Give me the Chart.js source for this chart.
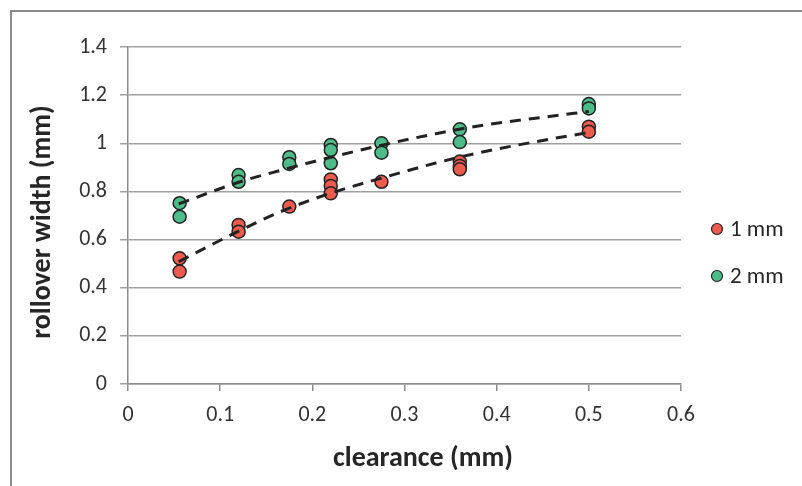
<!DOCTYPE html>
<html>
<head>
<meta charset="utf-8">
<script src="https://cdn.jsdelivr.net/npm/chart.js@4/dist/chart.umd.min.js"></script>
<style>
  html, body { margin: 0; padding: 0; background: #fff; }
  #wrap { position: relative; width: 802px; height: 486px; }
</style>
</head>
<body>
<div id="wrap"><canvas id="c" width="802" height="486"></canvas></div>
<script>
// ---- data ----
const seriesNames = ['1 mm', '2 mm'];
const xTicks = [0, 0.1, 0.2, 0.3, 0.4, 0.5, 0.6];
const yTicks = [0, 0.2, 0.4, 0.6, 0.8, 1.0, 1.2, 1.4];

const clear1 = [0.056, 0.056, 0.12, 0.12, 0.175, 0.22, 0.22, 0.22, 0.275, 0.36, 0.36, 0.36, 0.5, 0.5];
const width1 = [0.522, 0.467, 0.661, 0.633, 0.737, 0.85, 0.823, 0.792, 0.84, 0.924, 0.906, 0.892, 1.069, 1.048];

const clear2 = [0.056, 0.056, 0.12, 0.12, 0.175, 0.175, 0.22, 0.22, 0.22, 0.275, 0.275, 0.36, 0.36, 0.5, 0.5];
const width2 = [0.751, 0.695, 0.868, 0.84, 0.942, 0.914, 0.993, 0.972, 0.917, 1.0, 0.961, 1.058, 1.005, 1.163, 1.145];

// trendlines
const trendX1 = [0.055, 0.12, 0.165, 0.22, 0.273, 0.334, 0.38, 0.44, 0.5];
const trendY1 = [0.508, 0.635, 0.715, 0.793, 0.853, 0.918, 0.96, 1.005, 1.045];
const trendX2 = [0.055, 0.12, 0.165, 0.22, 0.273, 0.334, 0.38, 0.45, 0.5];
const trendY2 = [0.748, 0.838, 0.887, 0.942, 0.99, 1.04, 1.072, 1.108, 1.132];

const xTitle = 'clearance (mm)';
const yTitle = 'rollover width (mm)';

// ---- styles ----
const RED = '#EC5B4D';
const GREEN = '#4DBC88';
const FONT = 'Carlito, Lato, "Liberation Sans", sans-serif';

const pts = (xs, ys) => xs.map((x, i) => ({ x: x, y: ys[i] }));

const decor = {
  id: 'decor',
  beforeDraw(chart) {
    const ctx = chart.ctx;
    ctx.save();
    ctx.strokeStyle = '#8c8c8c';
    ctx.lineWidth = 2;
    ctx.beginPath();
    ctx.moveTo(11, 486);
    ctx.lineTo(11, 11);
    ctx.lineTo(802, 11);
    ctx.stroke();
    ctx.restore();
  },
  afterDraw(chart) {
    const ctx = chart.ctx;
    ctx.save();
    // axis titles
    ctx.fillStyle = '#262626';
    ctx.font = 'bold 28px ' + FONT;
    ctx.textAlign = 'center';
    ctx.textBaseline = 'middle';
    ctx.fillText(xTitle, 423, 459);
    ctx.translate(43, 222);
    ctx.rotate(-Math.PI / 2);
    ctx.fillText(yTitle, 0, 0);
    ctx.restore();
    // legend
    ctx.save();
    const items = [
      { name: seriesNames[0], color: RED, y: 229 },
      { name: seriesNames[1], color: GREEN, y: 276 }
    ];
    items.forEach(it => {
      ctx.beginPath();
      ctx.arc(717, it.y, 5.5, 0, Math.PI * 2);
      ctx.fillStyle = it.color;
      ctx.fill();
      ctx.lineWidth = 1.2;
      ctx.strokeStyle = '#222';
      ctx.stroke();
      ctx.fillStyle = '#262626';
      ctx.font = '23px ' + FONT;
      ctx.textAlign = 'left';
      ctx.textBaseline = 'middle';
      ctx.fillText(it.name, 730, it.y + 1);
    });
    ctx.restore();
  }
};

new Chart(document.getElementById('c'), {
  type: 'scatter',
  data: {
    datasets: [
      {
        type: 'line', label: 'trend 1', data: pts(trendX1, trendY1),
        borderColor: '#222', borderWidth: 3, borderDash: [11, 8],
        pointRadius: 0, fill: false, cubicInterpolationMode: 'monotone', order: 0
      },
      {
        type: 'line', label: 'trend 2', data: pts(trendX2, trendY2),
        borderColor: '#222', borderWidth: 3, borderDash: [11, 8],
        pointRadius: 0, fill: false, cubicInterpolationMode: 'monotone', order: 0
      },
      {
        label: seriesNames[0], data: pts(clear1, width1),
        backgroundColor: RED, borderColor: '#222', borderWidth: 1.5,
        pointRadius: 6.5, order: 1
      },
      {
        label: seriesNames[1], data: pts(clear2, width2),
        backgroundColor: GREEN, borderColor: '#222', borderWidth: 1.5,
        pointRadius: 6.5, order: 1
      }
    ]
  },
  options: {
    responsive: false,
    animation: false,
    layout: { padding: { left: 10, top: 47, right: 121, bottom: 0 } },
    plugins: { legend: { display: false }, tooltip: { enabled: false } },
    scales: {
      x: {
        type: 'linear', min: 0, max: 0.6,
        afterBuildTicks: s => { s.ticks = xTicks.map(v => ({ value: v })); },
        afterFit: s => { s.height = 102; },
        ticks: {
          color: '#333', font: { family: FONT, size: 22 }, padding: 11,
          callback: v => String(Math.round(v * 10) / 10)
        },
        grid: { drawOnChartArea: false, drawTicks: true, tickLength: 7, color: '#8c8c8c', lineWidth: 1.5 },
        border: { color: '#8c8c8c', width: 1.5 }
      },
      y: {
        type: 'linear', min: 0, max: 1.4,
        afterBuildTicks: s => { s.ticks = yTicks.map(v => ({ value: v })); },
        afterFit: s => { s.width = 118; },
        ticks: {
          color: '#333', font: { family: FONT, size: 22 }, padding: 13,
          callback: v => String(Math.round(v * 10) / 10)
        },
        grid: { color: '#a0a0a0', lineWidth: 1.5, tickLength: 8 },
        border: { color: '#8c8c8c', width: 1.5 }
      }
    }
  },
  plugins: [decor]
});
</script>
</body>
</html>
